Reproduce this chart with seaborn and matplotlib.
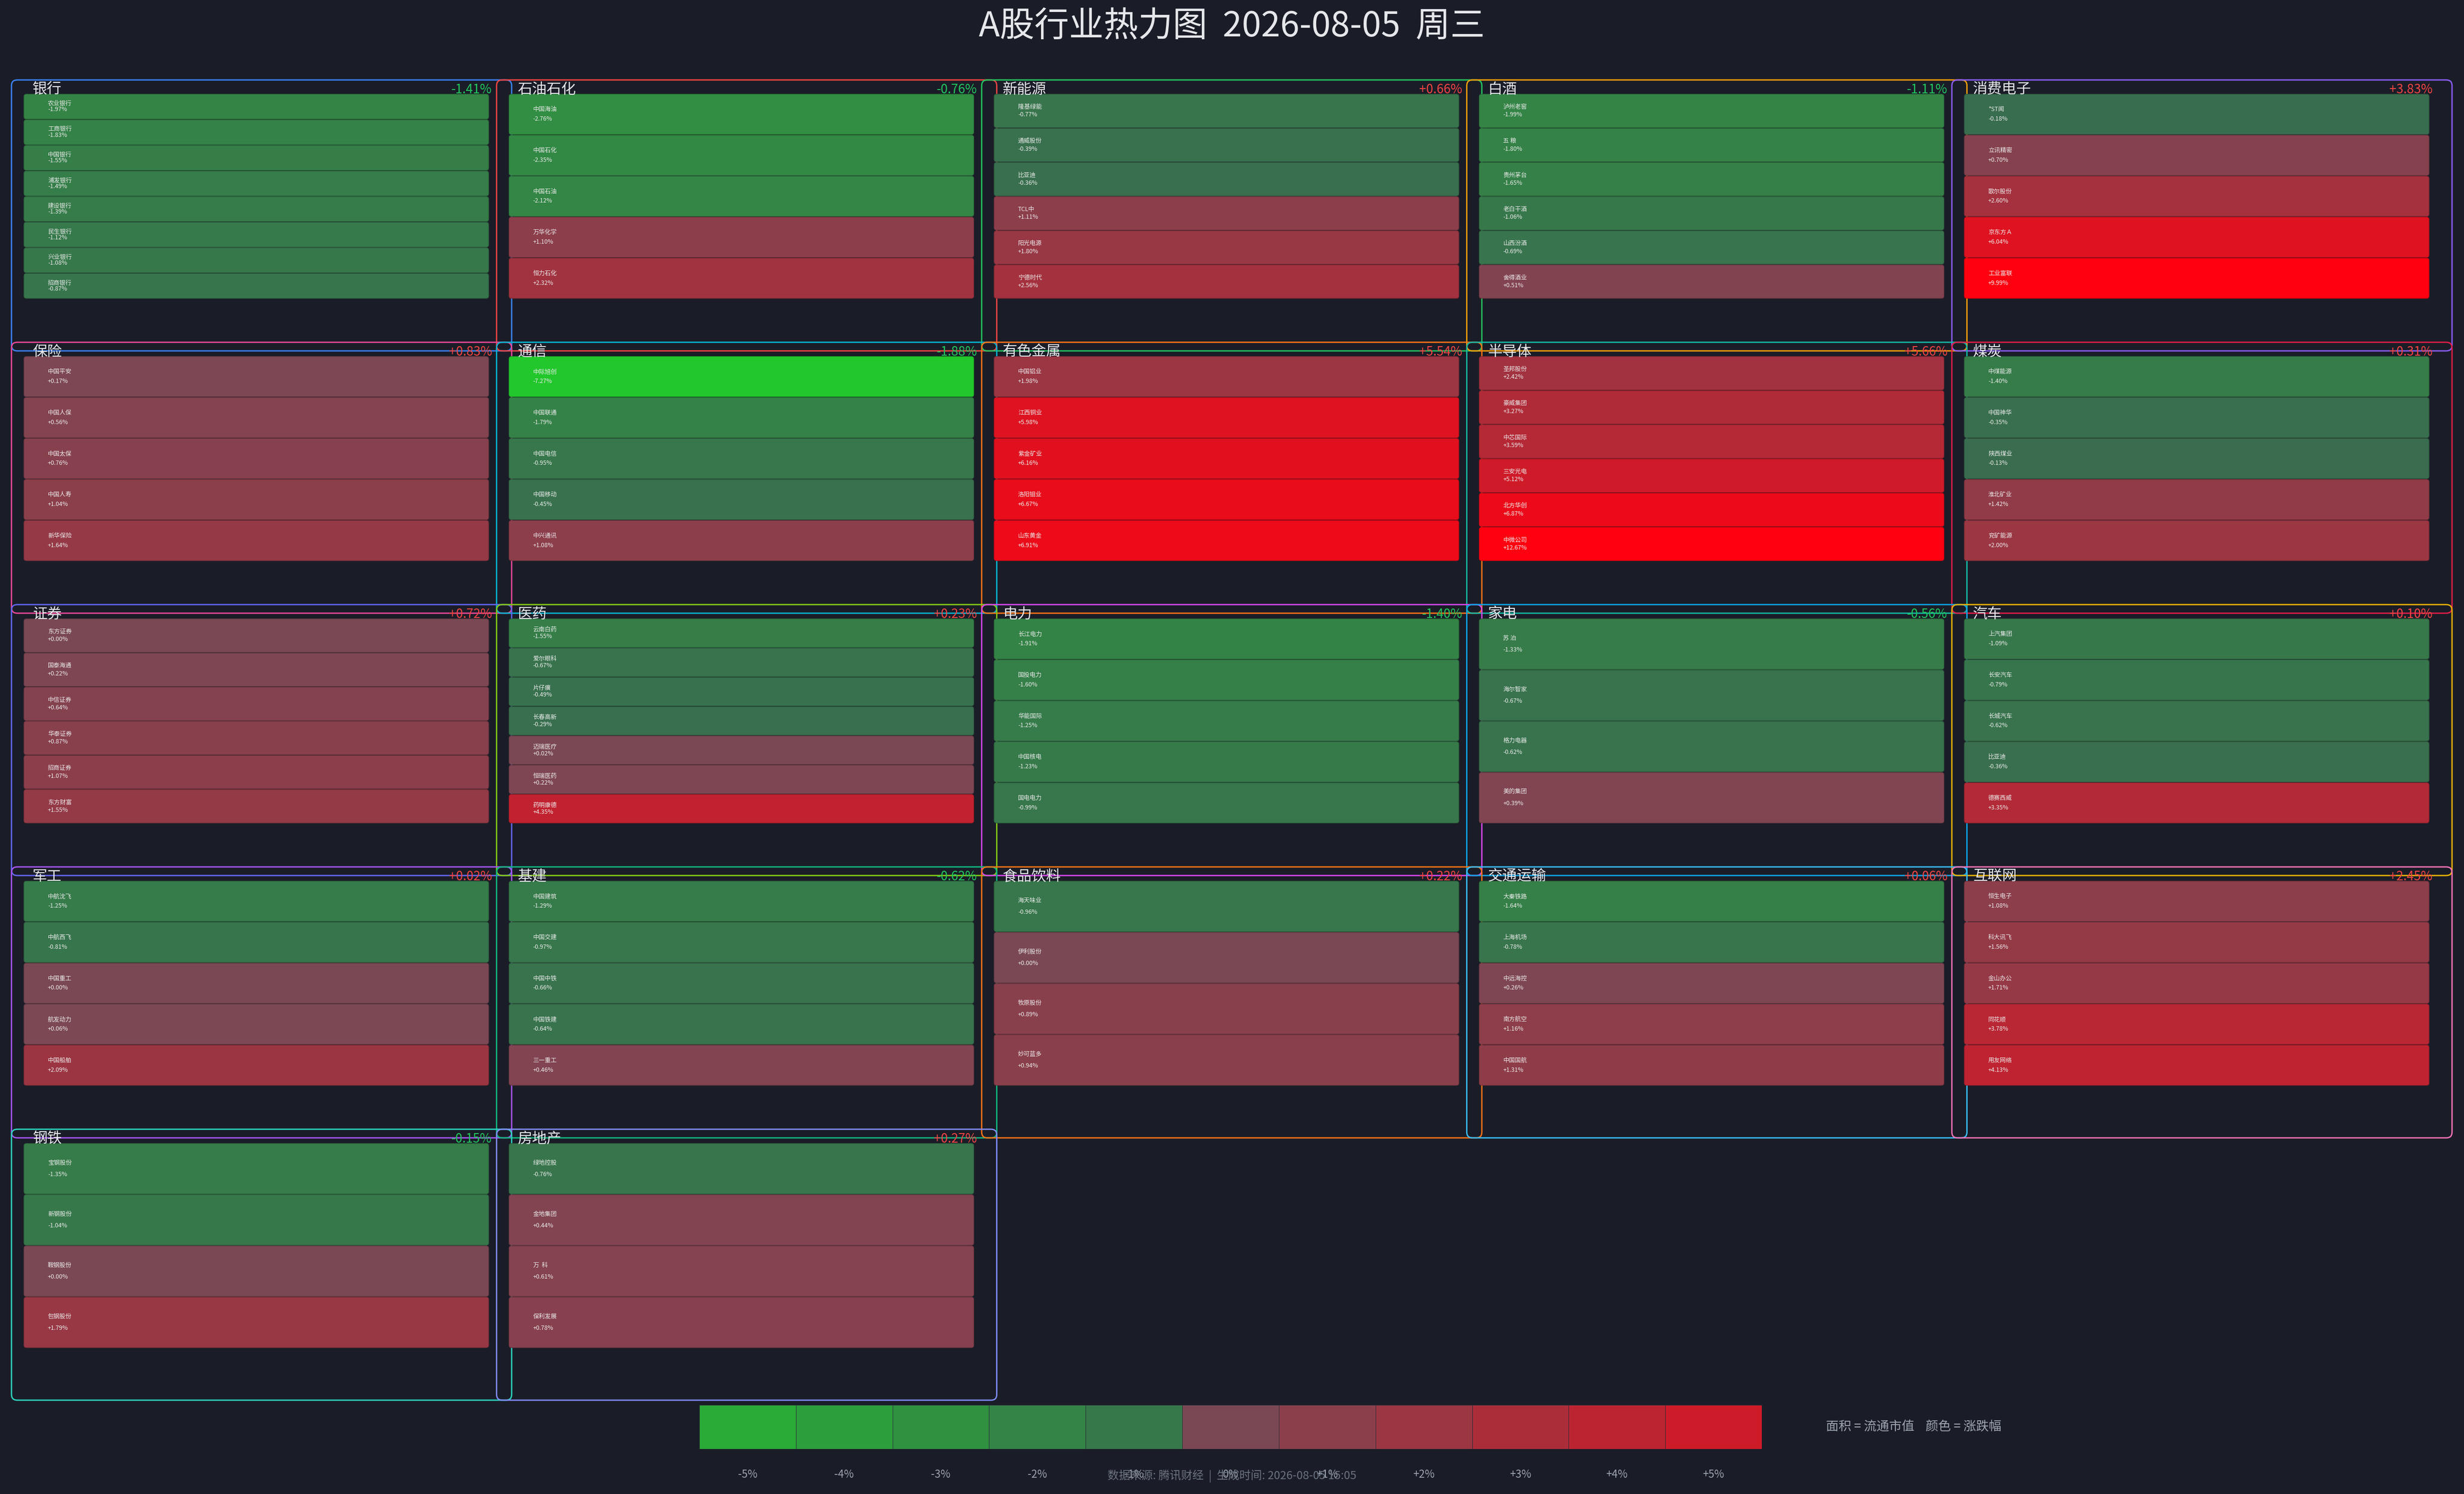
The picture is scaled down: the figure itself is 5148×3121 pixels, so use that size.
import numpy as np
import pandas as pd
import matplotlib
matplotlib.use('Agg')
import matplotlib.pyplot as plt
from matplotlib.patches import FancyBboxPatch
from matplotlib.colors import ListedColormap
import seaborn as sns

# ---- data ----
sectors = ['银行', '石油石化', '新能源', '白酒', '消费电子',
           '保险', '通信', '有色金属', '半导体', '煤炭',
           '证券', '医药', '电力', '家电', '汽车',
           '军工', '基建', '食品饮料', '交通运输', '互联网',
           '钢铁', '房地产']
sector_pct = [-1.41, -0.76, 0.66, -1.11, 3.83,
              0.83, -1.88, 5.54, 5.66, 0.31,
              0.72, 0.23, -1.40, -0.56, 0.10,
              0.02, -0.62, 0.22, 0.06, 2.45,
              -0.15, 0.27]
frame_colors = ['#3b82f6', '#ef4444', '#22c55e', '#f59e0b', '#8b5cf6',
                '#ec4899', '#06b6d4', '#f97316', '#14b8a6', '#e11d48',
                '#6366f1', '#84cc16', '#d946ef', '#0ea5e9', '#eab308',
                '#a855f7', '#10b981', '#f97316', '#38bdf8', '#f472b6',
                '#2dd4bf', '#818cf8']
stock_names = [
    ['农业银行', '工商银行', '中国银行', '浦发银行', '建设银行', '民生银行', '兴业银行', '招商银行'],
    ['中国海油', '中国石化', '中国石油', '万华化学', '恒力石化'],
    ['隆基绿能', '通威股份', '比亚迪', 'TCL中', '阳光电源', '宁德时代'],
    ['泸州老窖', '五 粮', '贵州茅台', '老白干酒', '山西汾酒', '舍得酒业'],
    ['*ST闻', '立讯精密', '歌尔股份', '京东方Ａ', '工业富联'],
    ['中国平安', '中国人保', '中国太保', '中国人寿', '新华保险'],
    ['中际旭创', '中国联通', '中国电信', '中国移动', '中兴通讯'],
    ['中国铝业', '江西铜业', '紫金矿业', '洛阳钼业', '山东黄金'],
    ['圣邦股份', '豪威集团', '中芯国际', '三安光电', '北方华创', '中微公司'],
    ['中煤能源', '中国神华', '陕西煤业', '淮北矿业', '兖矿能源'],
    ['东方证券', '国泰海通', '中信证券', '华泰证券', '招商证券', '东方财富'],
    ['云南白药', '爱尔眼科', '片仔癀', '长春高新', '迈瑞医疗', '恒瑞医药', '药明康德'],
    ['长江电力', '国投电力', '华能国际', '中国核电', '国电电力'],
    ['苏 泊', '海尔智家', '格力电器', '美的集团'],
    ['上汽集团', '长安汽车', '长城汽车', '比亚迪', '德赛西威'],
    ['中航沈飞', '中航西飞', '中国重工', '航发动力', '中国船舶'],
    ['中国建筑', '中国交建', '中国中铁', '中国铁建', '三一重工'],
    ['海天味业', '伊利股份', '牧原股份', '妙可蓝多'],
    ['大秦铁路', '上海机场', '中远海控', '南方航空', '中国国航'],
    ['恒生电子', '科大讯飞', '金山办公', '同花顺', '用友网络'],
    ['宝钢股份', '新钢股份', '鞍钢股份', '包钢股份'],
    ['绿地控股', '金地集团', '万  科', '保利发展'],
]
stock_pct = [
    [-1.97, -1.83, -1.55, -1.49, -1.39, -1.12, -1.08, -0.87],
    [-2.76, -2.35, -2.12, 1.10, 2.32],
    [-0.77, -0.39, -0.36, 1.11, 1.80, 2.56],
    [-1.99, -1.80, -1.65, -1.06, -0.69, 0.51],
    [-0.18, 0.70, 2.60, 6.04, 9.99],
    [0.17, 0.56, 0.76, 1.04, 1.64],
    [-7.27, -1.79, -0.95, -0.45, 1.08],
    [1.98, 5.98, 6.16, 6.67, 6.91],
    [2.42, 3.27, 3.59, 5.12, 6.87, 12.67],
    [-1.40, -0.35, -0.13, 1.42, 2.00],
    [0.00, 0.22, 0.64, 0.87, 1.07, 1.55],
    [-1.55, -0.67, -0.49, -0.29, 0.02, 0.22, 4.35],
    [-1.91, -1.60, -1.25, -1.23, -0.99],
    [-1.33, -0.67, -0.62, 0.39],
    [-1.09, -0.79, -0.62, -0.36, 3.35],
    [-1.25, -0.81, 0.00, 0.06, 2.09],
    [-1.29, -0.97, -0.66, -0.64, 0.46],
    [-0.96, 0.00, 0.89, 0.94],
    [-1.64, -0.78, 0.26, 1.16, 1.31],
    [1.08, 1.56, 1.71, 3.78, 4.13],
    [-1.35, -1.04, 0.00, 1.79],
    [-0.76, 0.44, 0.61, 0.78],
]
legend_vals = [-5, -4, -3, -2, -1, 0, 1, 2, 3, 4, 5]
legend_labels = [f'{v:+d}%' if v != 0 else '0%' for v in legend_vals]
legend_labels = [s.replace('+-', '-') for s in legend_labels]

bg = '#1a1d27'
sns.set_theme(style='dark', rc={'figure.facecolor': bg, 'axes.facecolor': bg})
plt.rcParams['font.family'] = ['Noto Sans CJK SC', 'DejaVu Sans']

# colour scales: green for falls, mauve -> red for rises
neg_cmap = sns.blend_palette(['#3a6b50', '#20d028'], as_cmap=True)
pos_cmap = sns.blend_palette(['#7a4854', '#ff0010'], as_cmap=True)


def pct_color(p):
    if p < 0:
        return neg_cmap(min(-p / 8.0, 1.0))
    return pos_cmap(min(p / 8.0, 1.0))


def darker(c, f=0.8):
    return (c[0] * f, c[1] * f, c[2] * f, 1.0)


W, H = 5148, 3121
fig = plt.figure(figsize=(W / 100, H / 100), dpi=100)
ax = fig.add_axes([0, 0, 1, 1])
ax.set_xlim(0, W)
ax.set_ylim(H, 0)
ax.axis('off')

# grid layout in pixels
col_step, row_step = 1013.5, 548
fx0, fy0, fw, fh = 24, 167, 1045, 566
bar_dx, bar_dy, bar_w, bar_h = 26, 29, 971, 428

for i, name in enumerate(sectors):
    r, c = divmod(i, 5)
    x0 = fx0 + c * col_step
    y0 = fy0 + r * row_step
    frame = FancyBboxPatch((x0, y0), fw, fh, boxstyle='round,pad=0,rounding_size=12',
                           fill=False, ec=frame_colors[i], lw=2, zorder=1)
    ax.add_patch(frame)

for i, name in enumerate(sectors):
    r, c = divmod(i, 5)
    x0 = fx0 + c * col_step
    y0 = fy0 + r * row_step
    names = stock_names[i]
    vals = stock_pct[i]
    n = len(names)
    slot = bar_h / n
    bx = x0 + bar_dx
    for j, (sn, sv) in enumerate(zip(names, vals)):
        top = y0 + bar_dy + j * slot
        col = pct_color(sv)
        ax.add_patch(FancyBboxPatch((bx, top + 0.8), bar_w, slot - 1.6,
                                    boxstyle='round,pad=0,rounding_size=5',
                                    fc=col, ec=darker(col), lw=0.9, zorder=2))
        cy = top + slot / 2
        ax.text(bx + 50, cy - 0.115 * slot, sn, fontsize=9, color='#ececec',
                ha='left', va='center', zorder=3)
        ax.text(bx + 50, cy + 0.115 * slot, f'{sv:+.2f}%', fontsize=9, color='#ececec',
                ha='left', va='center', zorder=3)
    ax.text(x0 + 44, y0 + 28.5, name, fontsize=22, color='#e5e7eb',
            ha='left', va='baseline', zorder=4)
    sp = sector_pct[i]
    ax.text(x0 + 1004, y0 + 28, f'{sp:+.2f}%', fontsize=19,
            color='#ef4444' if sp > 0 else '#22c55e',
            ha='right', va='baseline', zorder=4)

ax.text(W / 2, 56, 'A股行业热力图  2026-08-05  周三', fontsize=52, color='#e5e7eb',
        ha='center', va='center')

# colour legend
swatches = [pct_color(v) for v in legend_vals]
lax = fig.add_axes([1461 / W, 1 - 3027 / H, 2220 / W, 92 / H])
sns.heatmap(np.arange(len(legend_vals)).reshape(1, -1), ax=lax,
            cmap=ListedColormap(swatches), cbar=False,
            xticklabels=legend_labels, yticklabels=False,
            linewidths=0.6, linecolor='#2a2d36')
lax.tick_params(axis='x', length=0, pad=30, labelsize=16, labelcolor='#9ca3af')
plt.setp(lax.get_xticklabels(), rotation=0)

fig.text(3815 / W, 1 - 2981 / H, '面积 = 流通市值    颜色 = 涨跌幅', fontsize=19,
         color='#9ca3af', ha='left', va='center')
fig.text(0.5, 1 - 3083 / H, '数据来源: 腾讯财经  |  生成时间: 2026-08-05 15:05',
         fontsize=17, color='#6b7280', ha='center', va='center')

fig.savefig('out.png', dpi=100, facecolor=bg)
